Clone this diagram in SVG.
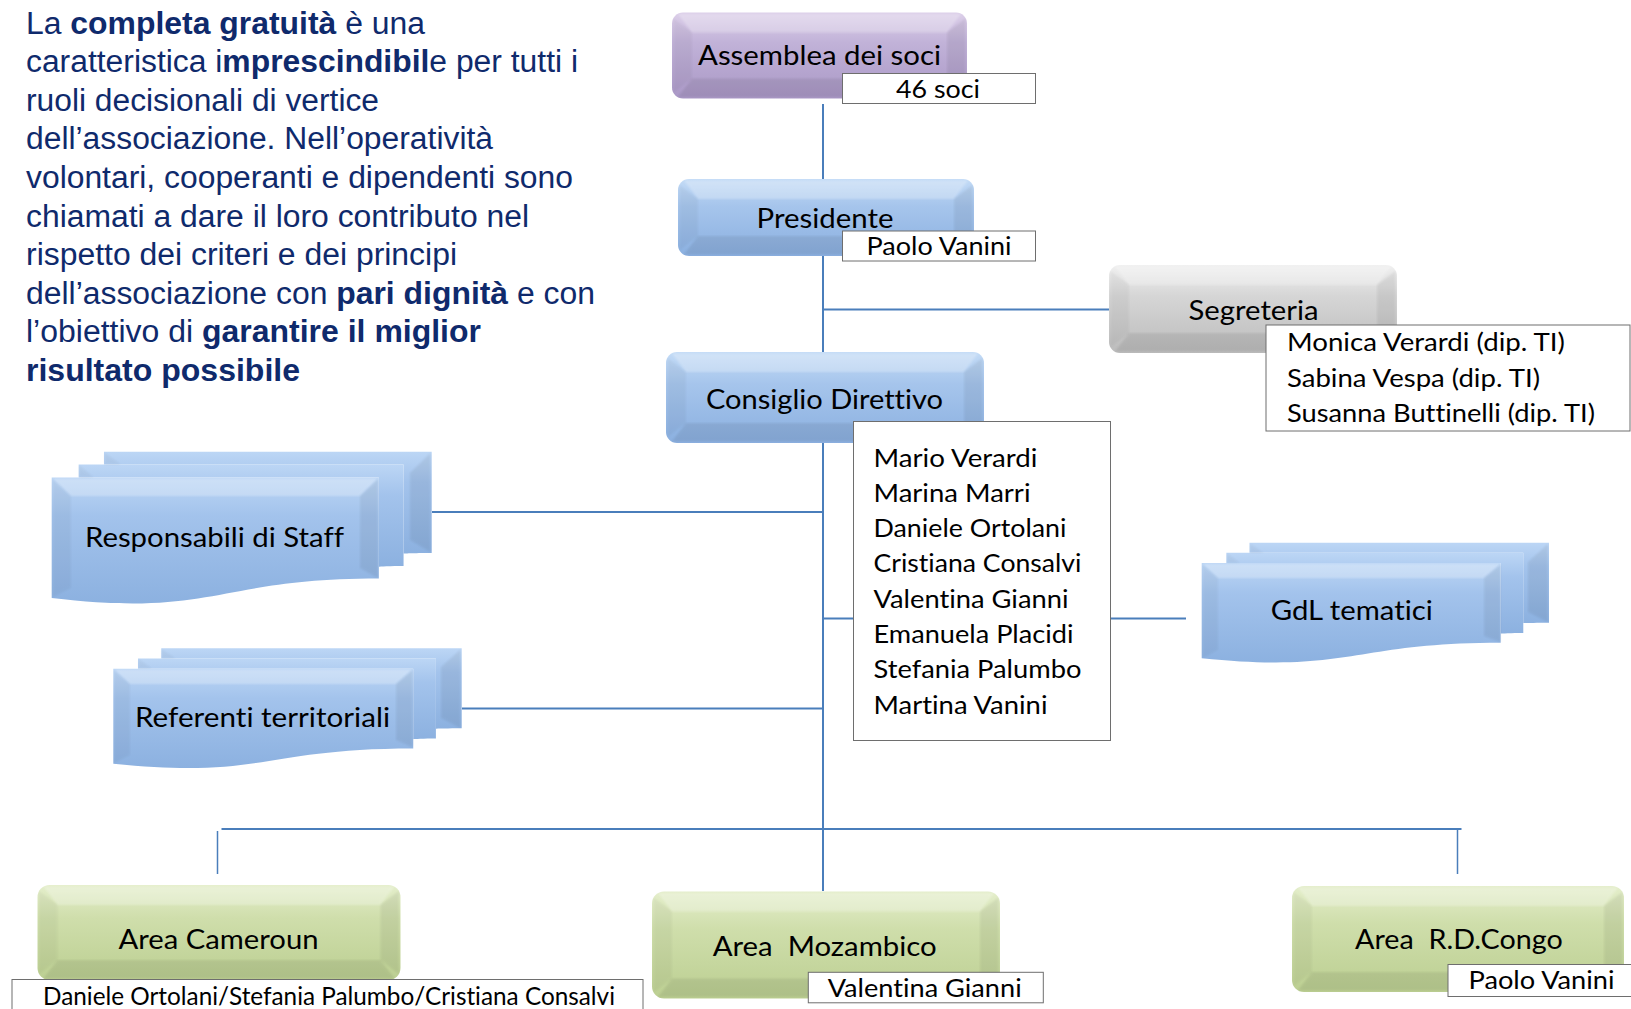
<svg xmlns="http://www.w3.org/2000/svg" xmlns:xlink="http://www.w3.org/1999/xlink" width="1631" height="1009" viewBox="0 0 1631 1009">
  <style>
    .para { font-family: "Liberation Sans", Arial, sans-serif; font-size: 31px; fill: #0f2a6c; }
    .para .b { font-weight: bold; }
    .lbl, .lst { font-family: Lato, "Open Sans", sans-serif; fill: #000; font-variant-ligatures: none; font-feature-settings: "liga" 0, "clig" 0; }
    .lbl { font-size: 27px; }
    .lst { font-size: 25px; }
    .conn { fill: none; stroke: #4a7ebb; stroke-width: 2; }
    .stub { fill: none; stroke: #4a7ebb; stroke-width: 1.5; }
    .tag { fill: #fff; stroke: #6e6e6e; stroke-width: 1; }
    .ft { fill: #fff; opacity: 0.26; filter: url(#soft); }
    .fl { fill: #000; opacity: 0.035; filter: url(#soft); }
    .fr { fill: #000; opacity: 0.06; filter: url(#soft); }
    .fb { fill: #000; opacity: 0.07; filter: url(#soft); }
  </style>
  <defs>
    <filter id="soft" x="-5%" y="-5%" width="110%" height="110%">
      <feGaussianBlur stdDeviation="1.2"/>
    </filter>
    <linearGradient id="gBlue" x1="0" y1="0" x2="0" y2="1">
      <stop offset="0" stop-color="#c3dbf6"/>
      <stop offset="0.35" stop-color="#a6c5ec"/>
      <stop offset="1" stop-color="#8bb0e0"/>
    </linearGradient>
    <linearGradient id="gPurple" x1="0" y1="0" x2="0" y2="1">
      <stop offset="0" stop-color="#dccfe9"/>
      <stop offset="0.35" stop-color="#c1b2d8"/>
      <stop offset="1" stop-color="#aa98c6"/>
    </linearGradient>
    <linearGradient id="gGray" x1="0" y1="0" x2="0" y2="1">
      <stop offset="0" stop-color="#f0f0f0"/>
      <stop offset="0.35" stop-color="#d6d6d6"/>
      <stop offset="1" stop-color="#bcbcbc"/>
    </linearGradient>
    <linearGradient id="gGreen" x1="0" y1="0" x2="0" y2="1">
      <stop offset="0" stop-color="#e4eecb"/>
      <stop offset="0.35" stop-color="#cfdeab"/>
      <stop offset="1" stop-color="#bccf92"/>
    </linearGradient>
    <linearGradient id="gDoc" x1="0" y1="0" x2="0" y2="1">
      <stop offset="0" stop-color="#bcd6f5"/>
      <stop offset="0.3" stop-color="#a3c3ec"/>
      <stop offset="1" stop-color="#8cb1e0"/>
    </linearGradient>
    <!-- stacked-document shape, 21600 unit box -->
    <path id="mdBack" d="M2972,1815 L2972,0 L21600,0 L21600,14392 C20800,14392 20000,14467 20000,14467 L20000,1815 Z"/>
    <path id="mdMid" d="M1532,3675 L1532,1815 L20000,1815 L20000,16252 C19298,16252 18595,16352 18595,16352 L18595,3675 Z"/>
    <path id="mdFront" d="M0,20782 C9298,23542 9298,18022 18595,18022 L18595,3675 L0,3675 Z"/>
  </defs>

  <!-- intro paragraph -->
  <g id="intro" class="para">
    <text x="26" y="33.5" textLength="399" lengthAdjust="spacingAndGlyphs">La <tspan class="b">completa gratuità</tspan> è una</text>
    <text x="26" y="72.1" textLength="552" lengthAdjust="spacingAndGlyphs">caratteristica i<tspan class="b">mprescindibil</tspan>e per tutti i</text>
    <text x="26" y="110.7" textLength="353" lengthAdjust="spacingAndGlyphs">ruoli decisionali di vertice</text>
    <text x="26" y="149.3" textLength="467" lengthAdjust="spacingAndGlyphs">dell’associazione. Nell’operatività</text>
    <text x="26" y="187.9" textLength="547" lengthAdjust="spacingAndGlyphs">volontari, cooperanti e dipendenti sono</text>
    <text x="26" y="226.5" textLength="503" lengthAdjust="spacingAndGlyphs">chiamati a dare il loro contributo nel</text>
    <text x="26" y="265.1" textLength="431" lengthAdjust="spacingAndGlyphs">rispetto dei criteri e dei principi</text>
    <text x="26" y="303.7" textLength="569" lengthAdjust="spacingAndGlyphs">dell’associazione con <tspan class="b">pari dignità</tspan> e con</text>
    <text x="26" y="342.3" textLength="455" lengthAdjust="spacingAndGlyphs">l’obiettivo di <tspan class="b">garantire il miglior</tspan></text>
    <text x="26" y="380.9" textLength="274" lengthAdjust="spacingAndGlyphs"><tspan class="b">risultato possibile</tspan></text>
  </g>

  <!-- connectors -->
  <g id="connectors">
    <path class="conn" d="M823,104 V891"/>
    <path class="conn" d="M823,309.5 H1110"/>
    <path class="conn" d="M432,512 H823"/>
    <path class="conn" d="M462,708.5 H823"/>
    <path class="conn" d="M823,618.5 H1186"/>
    <path class="conn" d="M221.5,829 H1461.5"/>
    <path class="stub" d="M217.5,831 V874"/>
    <path class="stub" d="M1457.5,830 V874"/>
  </g>

  <!-- Assemblea dei soci -->
  <g id="assemblea">
    <rect x="672" y="12.5" width="295" height="86" rx="11" fill="url(#gPurple)"/>
    <polygon class="ft" points="678,14 961,14 947,32.5 692,32.5"/>
    <polygon class="fl" points="673.5,18.5 692,32.5 692,78.5 673.5,92.5"/>
    <polygon class="fr" points="965.5,18.5 947,32.5 947,78.5 965.5,92.5"/>
    <polygon class="fb" points="678,97 692,78.5 947,78.5 961,97"/>
    <text class="lbl" x="819.5" y="64.5" text-anchor="middle" textLength="243" lengthAdjust="spacingAndGlyphs">Assemblea dei soci</text>
    <rect class="tag" x="842.5" y="73.5" width="193" height="30"/>
    <text class="lst" x="938" y="98" text-anchor="middle" textLength="84" lengthAdjust="spacingAndGlyphs">46 soci</text>
  </g>

  <!-- Presidente -->
  <g id="presidente">
    <rect x="678" y="179" width="296" height="77" rx="11" fill="url(#gBlue)"/>
    <polygon class="ft" points="684,180.5 968,180.5 954,199 698,199"/>
    <polygon class="fl" points="679.5,185 698,199 698,236 679.5,250"/>
    <polygon class="fr" points="972.5,185 954,199 954,236 972.5,250"/>
    <polygon class="fb" points="684,254.5 698,236 954,236 968,254.5"/>
    <text class="lbl" x="825" y="227.5" text-anchor="middle" textLength="137" lengthAdjust="spacingAndGlyphs">Presidente</text>
    <rect class="tag" x="842.5" y="231" width="193" height="30"/>
    <text class="lst" x="939" y="255" text-anchor="middle" textLength="145" lengthAdjust="spacingAndGlyphs">Paolo Vanini</text>
  </g>

  <!-- Segreteria -->
  <g id="segreteria">
    <rect x="1109" y="265" width="288" height="88" rx="11" fill="url(#gGray)"/>
    <polygon class="ft" points="1115,266.5 1391,266.5 1377,285 1129,285"/>
    <polygon class="fl" points="1110.5,271 1129,285 1129,333 1110.5,347"/>
    <polygon class="fr" points="1395.5,271 1377,285 1377,333 1395.5,347"/>
    <polygon class="fb" points="1115,351.5 1129,333 1377,333 1391,351.5"/>
    <text class="lbl" x="1253.5" y="319.5" text-anchor="middle" textLength="130" lengthAdjust="spacingAndGlyphs">Segreteria</text>
    <rect class="tag" x="1266" y="325" width="364" height="106"/>
    <text class="lst" x="1287" y="351" textLength="278" lengthAdjust="spacingAndGlyphs">Monica Verardi (dip. TI)</text>
    <text class="lst" x="1287" y="386.5" textLength="253" lengthAdjust="spacingAndGlyphs">Sabina Vespa (dip. TI)</text>
    <text class="lst" x="1287" y="421.5" textLength="308" lengthAdjust="spacingAndGlyphs">Susanna Buttinelli (dip. TI)</text>
  </g>

  <!-- Consiglio Direttivo -->
  <g id="consiglio">
    <rect x="666" y="352" width="318" height="91" rx="11" fill="url(#gBlue)"/>
    <polygon class="ft" points="672,353.5 978,353.5 964,372 686,372"/>
    <polygon class="fl" points="667.5,358 686,372 686,423 667.5,437"/>
    <polygon class="fr" points="982.5,358 964,372 964,423 982.5,437"/>
    <polygon class="fb" points="672,441.5 686,423 964,423 978,441.5"/>
    <text class="lbl" x="824.5" y="408.5" text-anchor="middle" textLength="237" lengthAdjust="spacingAndGlyphs">Consiglio Direttivo</text>
    <rect class="tag" x="853.5" y="421.5" width="257" height="319" stroke="#5a5a5a"/>
    <text class="lst" x="873.5" y="466.5" textLength="164" lengthAdjust="spacingAndGlyphs">Mario Verardi</text>
    <text class="lst" x="873.5" y="501.8" textLength="157" lengthAdjust="spacingAndGlyphs">Marina Marri</text>
    <text class="lst" x="873.5" y="537.1" textLength="193" lengthAdjust="spacingAndGlyphs">Daniele Ortolani</text>
    <text class="lst" x="873.5" y="572.4" textLength="208" lengthAdjust="spacingAndGlyphs">Cristiana Consalvi</text>
    <text class="lst" x="873.5" y="607.7" textLength="195" lengthAdjust="spacingAndGlyphs">Valentina Gianni</text>
    <text class="lst" x="873.5" y="643" textLength="200" lengthAdjust="spacingAndGlyphs">Emanuela Placidi</text>
    <text class="lst" x="873.5" y="678.3" textLength="208" lengthAdjust="spacingAndGlyphs">Stefania Palumbo</text>
    <text class="lst" x="873.5" y="713.6" textLength="174" lengthAdjust="spacingAndGlyphs">Martina Vanini</text>
  </g>

  <!-- Responsabili di Staff -->
  <g id="staff">
    <g transform="translate(51.7,451.7) scale(0.017593,0.007037)">
      <use xlink:href="#mdBack" fill="url(#gDoc)"/>
      <use xlink:href="#mdMid" fill="url(#gDoc)"/>
      <use xlink:href="#mdFront" fill="url(#gDoc)"/>
    </g>
    <polygon class="fr" points="430.5,453 410,473 410,540 430.5,552"/>
    <polygon class="fl" points="104.5,452.5 121,464.5 104.5,464.5"/>
    <polygon class="fl" points="79,465 94,477.6 79,477.6"/>
    <polygon class="ft" points="53,478.5 377.5,478.5 360,496 71,496"/>
    <polygon class="fl" points="52.5,479 71,496 71,588 52.5,597"/>
    <polygon class="fr" points="378,479 360,496 360,568 378,578"/>
    <text class="lbl" x="85" y="547.3" textLength="259" lengthAdjust="spacingAndGlyphs">Responsabili di Staff</text>
  </g>

  <!-- Referenti territoriali -->
  <g id="referenti">
    <g transform="translate(113.3,648.3) scale(0.01613,0.0055556)">
      <use xlink:href="#mdBack" fill="url(#gDoc)"/>
      <use xlink:href="#mdMid" fill="url(#gDoc)"/>
      <use xlink:href="#mdFront" fill="url(#gDoc)"/>
    </g>
    <polygon class="fr" points="460.5,649.5 441,667 441,718 460.5,728"/>
    <polygon class="fl" points="161.5,649 176,658.5 161.5,658.5"/>
    <polygon class="fl" points="138.5,658.8 152,668.5 138.5,668.5"/>
    <polygon class="ft" points="114.5,669.5 412,669.5 396,684 130,684"/>
    <polygon class="fl" points="114,670 130,684 130,755 114,763"/>
    <polygon class="fr" points="412.5,670 396,684 396,740 412.5,747"/>
    <text class="lbl" x="135" y="726.7" textLength="255" lengthAdjust="spacingAndGlyphs">Referenti territoriali</text>
  </g>

  <!-- GdL tematici -->
  <g id="gdl">
    <g transform="translate(1201.7,542.7) scale(0.016079,0.0055556)">
      <use xlink:href="#mdBack" fill="url(#gDoc)"/>
      <use xlink:href="#mdMid" fill="url(#gDoc)"/>
      <use xlink:href="#mdFront" fill="url(#gDoc)"/>
    </g>
    <polygon class="fr" points="1548,544 1528,562 1528,612 1548,622"/>
    <polygon class="fl" points="1250,543.5 1264,553 1250,553"/>
    <polygon class="fl" points="1227,553.3 1240,563 1227,563"/>
    <polygon class="ft" points="1203,564 1500,564 1484,578 1218,578"/>
    <polygon class="fl" points="1202.5,564.5 1218,578 1218,650 1202.5,658"/>
    <polygon class="fr" points="1500.5,564.5 1484,578 1484,636 1500.5,642"/>
    <text class="lbl" x="1270.7" y="620" textLength="162" lengthAdjust="spacingAndGlyphs">GdL tematici</text>
  </g>

  <!-- Area Cameroun -->
  <g id="area-cameroun">
    <rect x="37.5" y="885" width="363" height="95" rx="12" fill="url(#gGreen)"/>
    <polygon class="ft" points="43.5,886.5 394.5,886.5 380.5,905 57.5,905"/>
    <polygon class="fl" points="39,891 57.5,905 57.5,960 39,974"/>
    <polygon class="fr" points="399,891 380.5,905 380.5,960 399,974"/>
    <polygon class="fb" points="43.5,978.5 57.5,960 380.5,960 394.5,978.5"/>
    <text class="lbl" x="218.5" y="948.5" text-anchor="middle" textLength="200" lengthAdjust="spacingAndGlyphs">Area Cameroun</text>
    <rect class="tag" x="12" y="979.5" width="631" height="40"/>
    <text class="lst" x="43" y="1005" textLength="572" lengthAdjust="spacingAndGlyphs">Daniele Ortolani/Stefania Palumbo/Cristiana Consalvi</text>
  </g>

  <!-- Area Mozambico -->
  <g id="area-mozambico">
    <rect x="652" y="891.5" width="348" height="107" rx="12" fill="url(#gGreen)"/>
    <polygon class="ft" points="658,893 994,893 980,911.5 672,911.5"/>
    <polygon class="fl" points="653.5,897.5 672,911.5 672,978.5 653.5,992.5"/>
    <polygon class="fr" points="998.5,897.5 980,911.5 980,978.5 998.5,992.5"/>
    <polygon class="fb" points="658,997 672,978.5 980,978.5 994,997"/>
    <text class="lbl" x="712.7" y="956" xml:space="preserve" textLength="224" lengthAdjust="spacingAndGlyphs">Area  Mozambico</text>
    <rect class="tag" x="808.3" y="972.3" width="235" height="30.5"/>
    <text class="lst" x="827.7" y="996.7" textLength="194" lengthAdjust="spacingAndGlyphs">Valentina Gianni</text>
  </g>

  <!-- Area R.D.Congo -->
  <g id="area-congo">
    <rect x="1292" y="886" width="332" height="106" rx="12" fill="url(#gGreen)"/>
    <polygon class="ft" points="1298,887.5 1618,887.5 1604,906 1312,906"/>
    <polygon class="fl" points="1293.5,892 1312,906 1312,972 1293.5,986"/>
    <polygon class="fr" points="1622.5,892 1604,906 1604,972 1622.5,986"/>
    <polygon class="fb" points="1298,990.5 1312,972 1604,972 1618,990.5"/>
    <text class="lbl" x="1355" y="948.5" xml:space="preserve" textLength="207.7" lengthAdjust="spacingAndGlyphs">Area  R.D.Congo</text>
    <rect class="tag" x="1448" y="964.5" width="190" height="32"/>
    <text class="lst" x="1468.5" y="988.7" textLength="146" lengthAdjust="spacingAndGlyphs">Paolo Vanini</text>
  </g>
</svg>
